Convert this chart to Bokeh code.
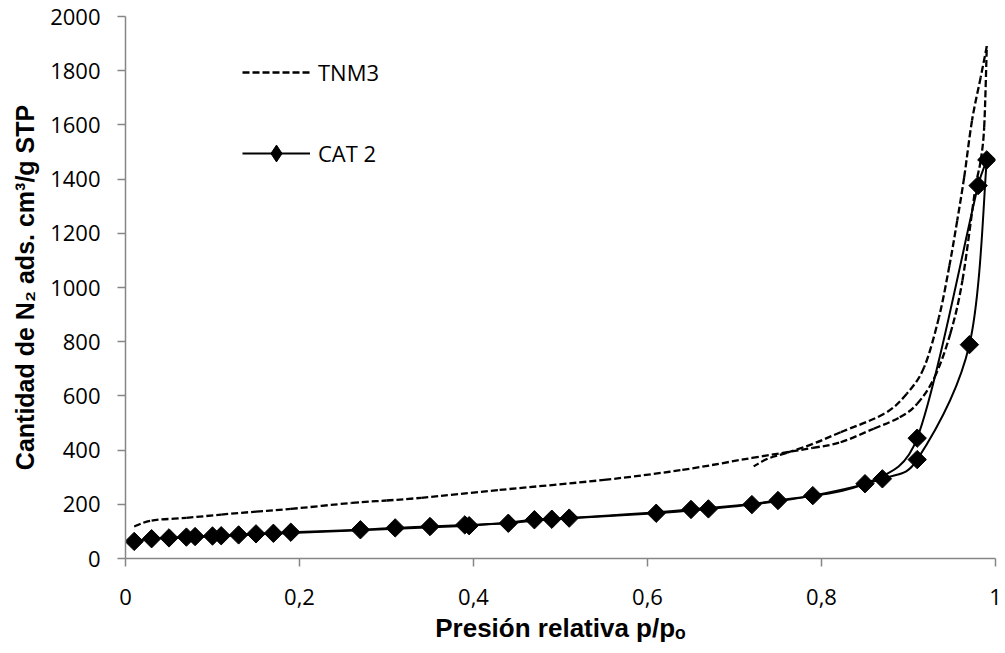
import math
from bokeh.plotting import figure
from bokeh.models import Range1d, Legend, LegendItem, FixedTicker, ColumnDataSource
from bokeh.embed import file_html
from bokeh.resources import INLINE

# ---------------- data ----------------
# TNM3 (dashed) – adsorption and desorption branches
tnm3_ads_p = [0.01, 0.03, 0.07, 0.11, 0.15, 0.19, 0.26, 0.30, 0.34, 0.43, 0.55, 0.64,
              0.72, 0.79, 0.822, 0.86, 0.89, 0.91, 0.93, 0.948, 0.962, 0.977, 0.983, 0.987, 0.99]
tnm3_ads_v = [118, 140, 150, 162, 173, 183, 205, 214, 224, 253, 290, 327,
              371, 408, 429, 479, 521, 571, 669, 829, 1026, 1370, 1469, 1592, 1890]
tnm3_des_p = [0.99, 0.983, 0.973, 0.964, 0.956, 0.947, 0.935, 0.918, 0.898, 0.872, 0.822,
              0.79, 0.76, 0.738, 0.722]
tnm3_des_v = [1890, 1776, 1616, 1407, 1247, 1080, 890, 706, 608, 534, 466,
              423, 390, 368, 340]

# CAT 2 (solid with diamonds)
cat2_ads_p = [0.01, 0.03, 0.05, 0.07, 0.10, 0.13, 0.15, 0.17, 0.19, 0.27, 0.31, 0.35,
              0.39, 0.44, 0.49, 0.61, 0.67, 0.72, 0.79, 0.87, 0.91, 0.97, 0.99]
cat2_ads_v = [63, 73, 76, 79, 83, 87, 91, 93, 97, 106, 113, 118,
              124, 130, 145, 167, 183, 199, 232, 294, 365, 789, 1471]
cat2_des_p = [0.99, 0.98, 0.91, 0.85, 0.75, 0.65, 0.51, 0.47, 0.395, 0.11, 0.08]
cat2_des_v = [1471, 1376, 444, 276, 214, 181, 149, 143, 121, 84, 81]

x_ticks = [0, 0.2, 0.4, 0.6, 0.8, 1.0]
x_tick_labels = ["0", "0,2", "0,4", "0,6", "0,8", "1"]
y_ticks = list(range(0, 2001, 200))

series_names = ["TNM3", "CAT 2"]

X_MAX, Y_MAX = 1.0, 2000.0
FRAME_W, FRAME_H = 870, 542
SX, SY = FRAME_W / X_MAX, FRAME_H / Y_MAX   # screen aspect used for smoothing only


def smooth_segments(xs, ys):
    """Excel-style smoothed line: cubic Bezier segments through the data points,
    handles limited relative to the adjacent segment length (in screen space)."""
    n = len(xs)
    out = dict(x0=[], y0=[], x1=[], y1=[], cx0=[], cy0=[], cx1=[], cy1=[])

    def handle(i, j, a, b):
        tx = (xs[b] - xs[a]) / 6.0
        ty = (ys[b] - ys[a]) / 6.0
        hl = math.hypot(tx * SX, ty * SY)
        seg = math.hypot((xs[j] - xs[i]) * SX, (ys[j] - ys[i]) * SY)
        lim = 0.5 * seg
        if hl > lim and hl > 0:
            f = lim / hl
            tx *= f
            ty *= f
        return tx, ty

    for i in range(n - 1):
        a = max(i - 1, 0)
        b = min(i + 2, n - 1)
        t0x, t0y = handle(i, i + 1, a, i + 1)
        t1x, t1y = handle(i + 1, i, i, b)
        out["x0"].append(xs[i]); out["y0"].append(ys[i])
        out["x1"].append(xs[i + 1]); out["y1"].append(ys[i + 1])
        out["cx0"].append(xs[i] + t0x)
        out["cy0"].append(ys[i] + t0y)
        out["cx1"].append(xs[i + 1] - t1x)
        out["cy1"].append(ys[i + 1] - t1y)
    return ColumnDataSource(out)


AXIS_GREY = "#868686"
TICK_FONT = "Open Sans"
TITLE_FONT = "Liberation Sans"

p = figure(width=1005, height=653, output_backend="svg", toolbar_location=None,
           x_range=Range1d(0, X_MAX), y_range=Range1d(0, Y_MAX),
           min_border_left=125, min_border_right=10, min_border_top=16, min_border_bottom=95)
p.outline_line_color = None
p.xgrid.visible = False
p.ygrid.visible = False
p.background_fill_color = "white"
p.border_fill_color = "white"

dash = "7 3"
bez_kw = dict(x0="x0", y0="y0", x1="x1", y1="y1", cx0="cx0", cy0="cy0", cx1="cx1", cy1="cy1")

# TNM3 dashed
p.bezier(source=smooth_segments(tnm3_ads_p, tnm3_ads_v), line_color="black",
         line_width=2.3, line_dash=dash, **bez_kw)
p.bezier(source=smooth_segments(tnm3_des_p, tnm3_des_v), line_color="black",
         line_width=2.3, line_dash=dash, **bez_kw)

# CAT 2 solid
p.bezier(source=smooth_segments(cat2_ads_p, cat2_ads_v), line_color="black", line_width=2, **bez_kw)
p.bezier(source=smooth_segments(cat2_des_p, cat2_des_v), line_color="black", line_width=2, **bez_kw)

p.scatter(cat2_ads_p, cat2_ads_v, marker="square", angle=math.pi / 4, size=13,
          fill_color="black", line_color="black")
p.scatter(cat2_des_p[1:], cat2_des_v[1:], marker="square", angle=math.pi / 4, size=13,
          fill_color="black", line_color="black")

# legend proxies (single point -> nothing visible in the plot area)
leg_tnm3 = p.line(x=tnm3_ads_p[:1], y=tnm3_ads_v[:1], line_color="black", line_width=2.3, line_dash=dash)
leg_cat2 = p.line(x=cat2_ads_p[:1], y=cat2_ads_v[:1], line_color="black", line_width=2)
leg_mk = p.scatter(x=cat2_ads_p[:1], y=cat2_ads_v[:1], marker="diamond", size=16,
                   fill_color="black", line_color="black")

legend = Legend(items=[LegendItem(label=series_names[0], renderers=[leg_tnm3]),
                       LegendItem(label=series_names[1], renderers=[leg_cat2, leg_mk])],
                location=(117, 384), orientation="vertical",
                glyph_width=68, glyph_height=42, label_height=42, spacing=39,
                label_standoff=8, padding=0, margin=0,
                border_line_color=None, background_fill_alpha=0,
                label_text_font=TICK_FONT, label_text_font_size="22px",
                label_text_color="black")
p.add_layout(legend, "center")

# axes
p.xaxis.ticker = FixedTicker(ticks=x_ticks)
p.xaxis.major_label_overrides = {t: l for t, l in zip(x_ticks, x_tick_labels)}
p.yaxis.ticker = FixedTicker(ticks=y_ticks)
for ax in (p.xaxis, p.yaxis):
    ax.axis_line_color = AXIS_GREY
    ax.axis_line_width = 1.5
    ax.major_tick_line_color = AXIS_GREY
    ax.major_tick_line_width = 1.5
    ax.major_tick_out = 8
    ax.major_tick_in = 0
    ax.minor_tick_line_color = None
    ax.major_label_text_font = TICK_FONT
    ax.major_label_text_font_size = "22px"
    ax.major_label_text_color = "black"
    ax.axis_label_text_font = TITLE_FONT
    ax.axis_label_text_font_style = "bold"
    ax.axis_label_text_color = "black"

p.yaxis.major_label_standoff = 17
p.xaxis.major_label_standoff = 22
p.xaxis.axis_label = "Presión relativa p/pₒ"
p.yaxis.axis_label = "Cantidad de N₂ ads. cm³/g STP"
p.xaxis.axis_label_text_font_size = "26px"
p.yaxis.axis_label_text_font_size = "25px"
p.xaxis.axis_label_standoff = 5
p.yaxis.axis_label_standoff = 8

open("out.html", "w").write(file_html(p, INLINE))
